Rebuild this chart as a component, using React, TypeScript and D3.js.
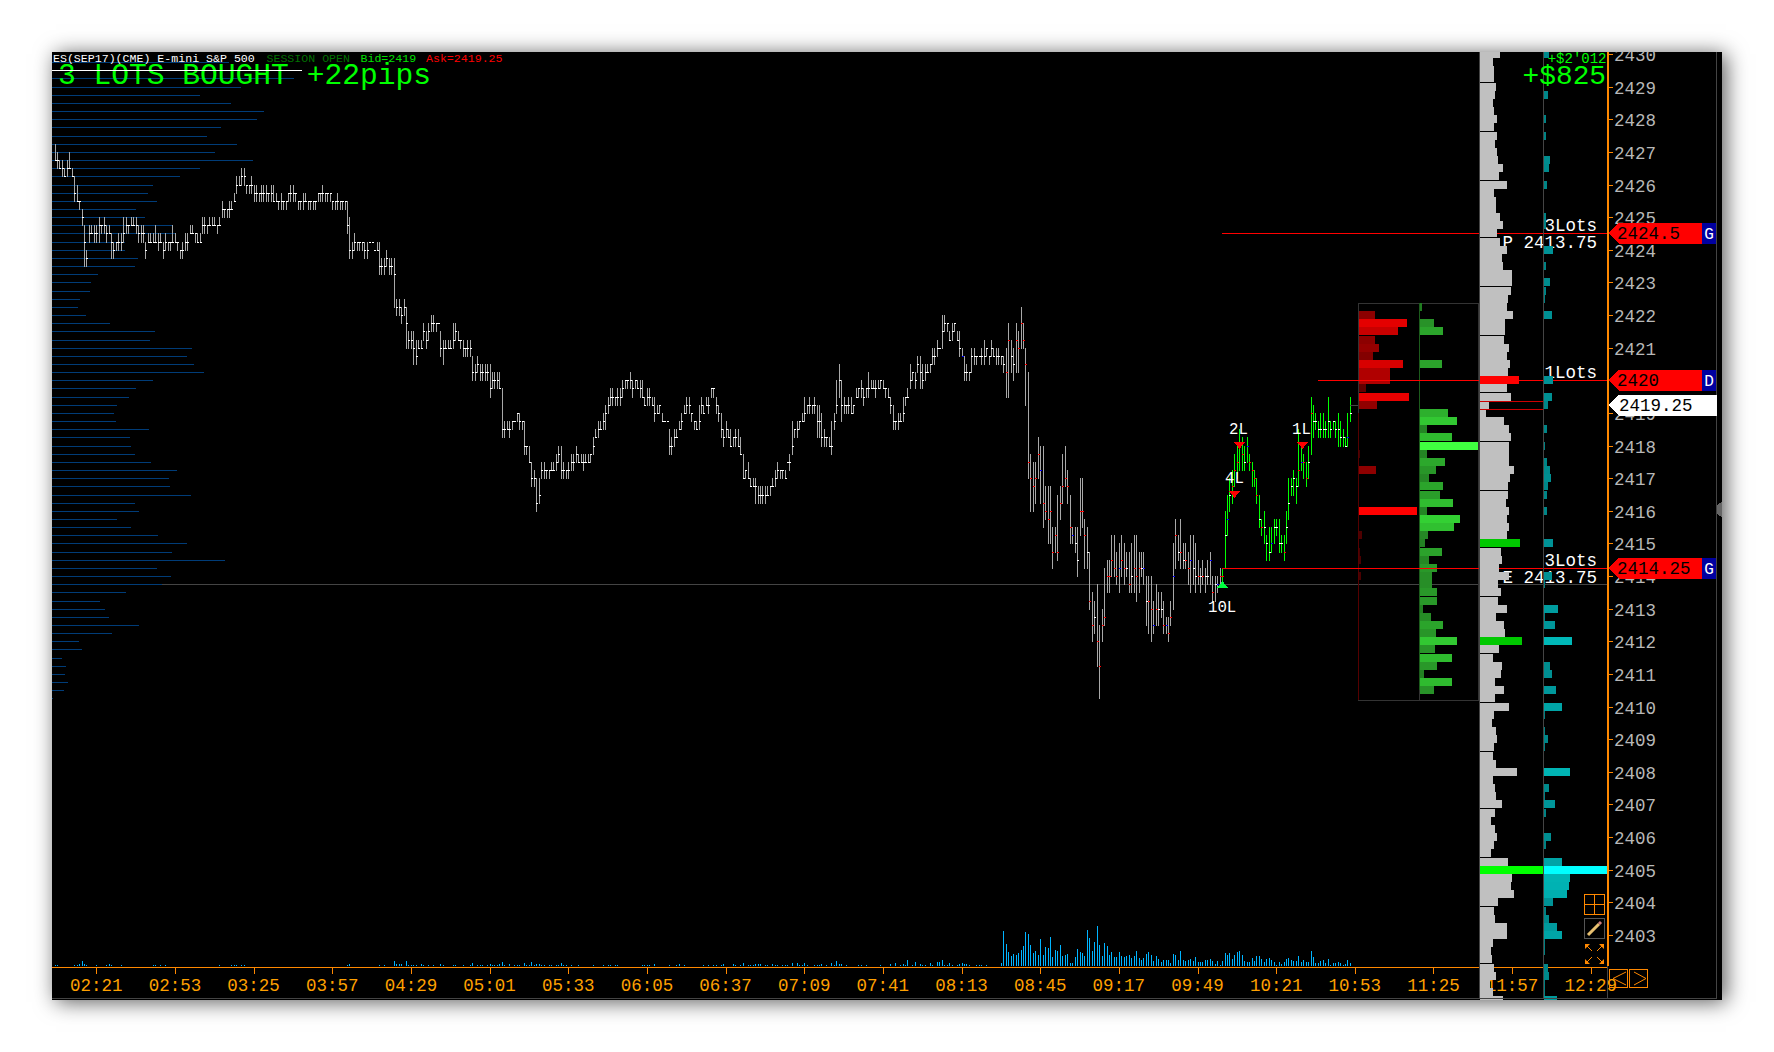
import React from "react";
import * as d3 from "d3";

// Quarter-point ticks above 2403 (2403.00 = 0, one point = 4)
const highs = [
97,96,95,95,94,95,96,94,93,92,90,89,87,84,87,87,87,87,88,87,
88,87,87,86,85,85,86,86,88,88,87,88,88,88,87,87,87,85,86,86,
86,87,86,86,85,86,85,85,87,86,85,84,85,86,86,87,87,86,86,86,
88,88,87,88,88,88,87,88,90,89,89,90,90,91,93,93,94,94,92,92,
93,92,92,91,92,92,92,91,92,92,91,90,91,90,90,91,92,92,91,90,
90,91,91,90,90,90,90,91,91,92,91,91,91,90,90,91,90,90,90,90,
88,85,86,85,85,85,85,85,85,85,84,85,85,83,83,84,83,83,83,78,
78,77,78,77,74,74,74,73,73,73,75,74,75,76,76,75,75,74,73,73,
73,73,75,75,74,73,73,72,73,73,71,70,71,70,70,70,70,70,69,69,
69,69,67,63,63,63,63,63,64,64,63,63,60,60,58,57,56,56,58,58,
57,57,58,58,59,60,60,58,57,58,59,59,60,59,59,59,59,59,59,61,
62,63,63,64,65,66,67,67,66,67,67,68,68,68,69,68,68,68,68,68,
66,67,67,66,66,65,65,64,63,63,62,61,62,62,63,64,65,66,66,64,
63,63,65,66,65,66,66,67,67,66,65,64,62,63,62,62,61,62,62,61,
59,57,58,56,56,56,55,55,55,55,55,55,56,57,58,57,57,57,58,59,
63,62,63,63,64,66,65,66,65,66,65,65,64,62,61,61,63,64,68,70,
68,66,65,66,66,65,67,67,68,67,67,69,68,68,68,68,68,68,67,67,
66,65,63,64,64,66,66,67,70,69,69,71,71,70,70,70,70,72,72,73,
72,76,76,75,74,75,75,74,74,72,71,70,69,72,72,71,71,72,73,72,
71,73,72,72,72,71,71,72,75,73,72,75,74,77,75,72,69,59,58,58,
61,60,60,55,55,55,50,50,54,55,59,60,57,54,50,50,50,56,56,51,
50,47,42,41,43,38,40,45,46,46,49,49,47,48,49,48,47,47,48,49,
49,47,47,47,44,44,44,41,43,42,42,41,39,39,41,48,51,49,51,48,
48,47,49,49,48,46,45,46,45,46,47,44,44,44,45,45,52,54,56,57,
59,60,62,61,60,61,59,58,57,56,54,51,52,49,50,50,51,51,51,49,
49,52,56,56,57,56,62,60,59,58,60,66,65,64,63,64,64,63,66,63,
63,63,64,63,62,61,64,66];
const lows = [
95,94,94,93,93,93,94,93,90,90,89,87,82,82,85,86,85,85,85,86,
86,85,86,83,83,84,84,84,85,86,86,87,87,86,85,85,85,83,85,85,
85,85,84,85,83,84,84,84,85,85,84,83,83,84,84,86,86,85,85,85,
86,86,86,87,87,87,86,87,88,88,88,88,89,90,91,92,92,92,91,91,
91,90,90,90,90,90,90,90,90,90,90,89,89,89,89,90,90,90,90,89,
89,89,90,89,89,89,89,90,90,90,90,90,90,89,89,89,89,89,89,86,
83,83,84,84,84,84,83,83,85,85,84,84,81,81,81,82,81,81,77,76,
76,75,76,72,72,72,70,70,72,72,73,72,73,74,74,74,75,71,70,72,
72,72,72,73,73,72,71,71,71,71,68,68,69,68,68,68,68,66,67,67,
67,67,61,61,62,61,62,63,63,62,62,59,59,58,55,55,52,53,56,56,
56,56,57,57,57,58,56,56,56,56,57,57,58,58,58,57,58,58,58,59,
61,61,62,62,62,64,65,65,65,65,65,66,67,67,67,66,67,67,66,66,
65,65,65,65,63,64,64,63,63,63,59,59,60,61,62,62,64,64,64,63,
62,62,62,64,64,65,64,66,66,64,63,61,60,61,61,60,60,60,60,59,
56,56,56,55,55,53,53,53,53,53,54,54,55,55,56,56,56,56,58,57,
59,61,61,62,63,63,64,64,64,64,61,61,60,60,60,60,59,62,64,66,
63,64,64,64,64,64,66,66,66,65,66,66,67,67,66,67,67,67,66,66,
64,62,62,62,63,63,65,66,67,68,67,69,67,67,68,69,69,70,70,71,
72,72,74,74,73,73,74,73,71,71,68,68,68,69,70,70,71,70,70,71,
70,71,71,70,70,70,69,66,66,69,68,69,69,72,72,65,56,52,52,53,
56,53,50,51,48,48,45,47,46,51,53,55,53,48,48,47,44,49,50,45,
45,40,36,37,33,29,36,38,42,42,44,44,43,42,44,43,44,42,42,42,
41,42,44,43,38,37,36,37,38,38,39,37,37,36,38,40,45,46,45,45,
45,43,42,43,42,43,42,43,42,43,43,41,41,42,43,43,45,49,52,53,
55,56,57,57,57,58,57,55,55,53,50,49,48,46,46,47,48,49,47,47,
46,48,51,54,54,53,55,57,56,55,56,59,61,62,61,61,61,61,61,61,
62,61,60,60,60,60,60,63];
const closes = [
95,95,94,94,93,94,94,93,91,90,90,88,85,83,86,86,86,86,87,87,
87,86,86,85,84,85,85,85,86,87,87,87,87,87,86,86,86,84,85,85,
85,85,85,85,84,85,85,85,85,85,85,84,84,85,85,86,86,86,85,85,
87,87,87,87,87,87,87,87,89,89,89,89,89,90,92,92,93,93,92,92,
92,91,91,91,91,91,91,91,91,90,90,90,90,90,90,91,91,91,91,90,
90,90,90,90,90,90,90,91,91,91,91,91,91,90,90,90,90,90,90,87,
84,84,85,85,85,85,84,84,85,85,84,84,82,82,82,83,82,82,81,77,
77,76,77,75,73,73,72,71,72,72,74,73,74,75,75,75,75,72,72,72,
72,72,73,74,73,73,72,72,72,72,69,69,70,69,69,69,69,67,68,68,
68,67,62,62,62,62,63,63,64,63,63,60,60,58,56,56,53,54,57,57,
57,57,57,57,58,59,57,57,57,57,58,58,59,58,58,58,58,58,59,60,
61,62,62,63,64,65,66,66,66,66,66,67,68,68,68,67,68,67,67,66,
65,66,66,65,64,64,65,63,63,63,60,60,61,61,62,63,64,65,65,64,
63,62,63,65,64,65,65,67,67,65,64,62,61,62,61,60,61,61,60,59,
56,57,56,55,55,55,54,54,54,54,54,55,55,56,57,57,57,56,58,58,
60,62,62,63,63,64,65,65,65,65,63,63,61,61,61,60,60,63,65,68,
65,65,65,65,64,65,66,67,67,66,67,67,67,67,67,67,68,67,67,66,
65,63,63,63,63,64,66,66,68,69,68,70,69,68,69,69,70,71,71,72,
72,74,75,75,73,74,75,73,72,71,69,69,69,71,71,71,71,71,71,72,
71,72,71,71,71,71,70,69,73,71,70,73,72,75,73,70,58,56,55,56,
59,57,53,52,51,52,47,49,47,53,55,56,55,50,49,48,46,52,52,49,
47,41,38,39,36,33,38,39,44,44,46,45,44,45,46,45,45,43,44,45,
44,45,45,45,41,41,40,38,40,40,40,38,38,37,39,44,49,47,47,46,
46,45,46,45,44,44,44,44,44,44,46,42,43,43,44,44,49,51,54,55,
57,58,60,59,58,60,58,57,56,54,51,50,50,48,47,48,50,50,48,48,
47,50,53,55,56,55,57,58,58,56,58,64,63,63,62,62,62,62,63,62,
63,62,62,61,61,60,61,64];
const redCloses = [387,388,391,392,393,394,395,396,397,398,399,400,402,403,404,405,406,407,408,409,410,411,412,413,417,418,419,421,422,424,425,426,427,428,429,430,431,432,434,435,437,439,440,441,445,446,448,451,453,454,456,458,460,461,465,467,471,474,475,479,480,481,482,483,486,487,488,489,491,500,506,508,509,511];
const blueCloses = [369,401,414,433,443,447,452,455,462,470,473,477,485,495,507,526];

const lateVolumes = [35,22,14,10,12,11,13,16,20,34,32,21,13,15,11,27,11,19,18,29,9,16,15,21,10,11,12,3,3,9,17,14,13,10,36,28,15,24,40,21,10,23,20,11,14,9,9,14,10,9,10,11,8,10,15,8,6,8,12,14,11,5,10,7,4,6,6,6,3,12,11,6,15,6,5,6,7,5,9,4,4,4,6,6,7,5,2,5,1,5,13,11,13,7,11,14,15,11,5,4,4,8,5,10,10,7,4,7,8,6,4,1,4,2,4,7,8,6,5,5,10,4,6,4,4,15,9,3,3,5,6,3,7,1,3,3,4,3,1,2,6,3];
const quietVolumeBars = [0,1,8,9,10,11,12,13,17,21,22,23,27,40,41,43,45,67,72,73,74,76,77,119,120,132,134,138,139,140,141,143,144,145,146,147,149,150,152,154,157,158,162,163,166,169,170,172,173,174,176,177,178,179,180,181,182,183,185,187,188,189,191,192,193,194,195,196,197,198,199,201,202,204,205,206,207,208,210,213,219,223,225,226,228,229,239,240,241,242,244,250,253,254,256,264,266,268,269,271,272,276,277,279,280,282,283,284,285,286,287,289,290,292,293,294,296,297,298,300,302,303,304,305,306,309,310,311,312,314,316,317,318,319,320,322,327,328,330,336,340,342,344,345,346,347,349,350,352,353,354,356,357,359,360,361,362,363,364,365,367,368,369,370,371,372,375,376,377,379,385];
const quietVolumes = [1,1,1,1,2,5,2,1,1,1,2,1,1,1,1,1,1,1,1,1,1,1,1,1,2,1,1,5,2,2,2,5,1,1,1,1,2,1,1,1,2,1,1,1,1,1,3,1,1,1,1,2,1,1,1,2,4,1,2,1,1,1,3,1,1,4,1,2,2,1,1,1,1,1,1,3,1,1,1,1,1,1,1,1,1,1,1,1,1,1,2,1,1,2,1,1,1,1,1,1,2,2,1,1,3,1,1,1,2,2,2,1,1,2,1,1,1,1,1,3,3,1,1,3,1,1,1,1,2,1,3,1,5,2,2,1,1,1,1,1,2,3,1,2,1,6,1,4,2,1,1,3,1,4,4,6,1,1,3,1,1,2,3,2,2,1,1,1,1,1,3];

// Left session profile, from tick 107 downward
const blueProfile = [177,250,242,189,148,179,212,205,169,155,185,163,201,148,128,101,96,105,84,93,121,123,73,73,86,83,46,39,38,28,26,34,58,103,98,140,135,142,152,101,84,77,65,62,64,97,78,79,83,99,125,117,118,139,83,87,65,79,106,135,120,173,105,119,110,74,48,53,57,87,60,27,30,10,14,13,16,12,1];
// Grey profile, from tick 108 downward
const greyProfile = [20,13,14,14,16,15,13,14,17,14,17,15,17,18,23,19,27,14,16,16,20,23,17,20,27,22,23,32,32,31,28,27,33,25,25,24,29,27,30,28,39,27,31,9,6,24,29,31,29,29,29,34,30,28,28,26,29,27,29,27,40,21,22,19,29,18,21,18,27,16,24,25,42,19,13,22,21,15,24,15,29,14,12,16,17,14,13,16,37,13,15,16,22,15,11,15,17,14,11,28,63,32,31,34,18,14,15,27,27,13,11,12,14,16,10,13,23];
const greyHighlights = [[68,"#ff0000"],[48,"#00c800"],[36,"#00c800"],[8,"#00ff00"]] as [number,string][];
const tealTicks = [108,103,100,98,95,94,92,88,87,84,82,80,79,78,76,68,66,65,62,60,58,57,56,55,54,52,48,44,43,40,39,38,36,33,32,30,28,27,25,24,23,20,18,17,16,15,12,11,9,8,7,6,5,4,3,2,1,0,-1,-2,-4,-5,-6,-7,-8];
const tealValues = [5,4,2,2,6,5,3,2,2,9,2,6,2,1,8,9,8,4,3,1,3,6,7,4,3,3,9,8,1,14,1,11,28,6,8,12,18,1,1,4,1,26,5,1,11,2,7,2,18,64,26,25,23,9,2,5,13,18,1,1,4,5,1,1,13];
const soldTicks = [76,75,74,73,72,71,70,69,68,67,66,65,59,57,52,49,47,46,44];
const soldValues = [16,48,39,16,20,14,44,31,31,7,50,18,1,17,58,3,1,2,2];
const boughtTicks = [77,75,74,70,64,63,62,61,60,59,58,57,56,55,54,53,52,51,50,49,48,47,46,45,44,43,42,41,40,39,38,37,36,35,34,33,32,31,30];
const boughtValues = [2,14,23,22,28,37,7,32,58,7,25,16,9,23,20,33,7,40,34,8,5,22,9,17,12,12,17,17,3,11,23,16,37,15,32,17,4,32,14];

const priceLabels = [2430,2429,2428,2427,2426,2425,2424,2423,2422,2421,2420,2419,2418,2417,2416,2415,2414,2413,2412,2411,2410,2409,2408,2407,2406,2405,2404,2403];
const timeLabels = ["02:21","02:53","03:25","03:57","04:29","05:01","05:33","06:05","06:37","07:09","07:41","08:13","08:45","09:17","09:49","10:21","10:53","11:25","11:57","12:29"];
const priceFlags = [{ p: 2424.5, t: "2424.5", k: "G" }, { p: 2420, t: "2420", k: "D" }, { p: 2414.25, t: "2414.25", k: "G" }];
const orderLines = [{ p: 2424.5, barIndex: 475 }, { p: 2420, barIndex: 514 }, { p: 2414.25, barIndex: 475 }];
const lotLabels = [{ p: 2424.5, t: "3Lots", sub: "P 2413.75" }, { p: 2420, t: "1Lots", sub: "" }, { p: 2414.25, t: "3Lots", sub: "E 2413.75" }];

const MONO = "'Liberation Mono', monospace";
const ORANGE = "#ff8800";

const tickPrice = (q: number) => 2403 + q / 4;
const py = d3.scaleLinear().domain([2403, 2430]).range([935, 54]);
const yq = (q: number) => Math.round(py(tickPrice(q)));
const bx = d3.scaleLinear().domain([0, 527]).range([54.5, 1349.9]);
const xi = (i: number) => Math.round(bx(i)) + 0.5;
const vol = d3.scaleLinear().domain([0, 40]).range([966, 926]);
const unit = d3.scaleLinear().domain([0, 100]).range([0, 100]);
const tealColor = d3.scaleLinear<string>().domain([0, 10, 28, 64]).range(["#007f80", "#009498", "#00b8b8", "#00ffff"]);
const redColor = d3.scaleLinear<string>().domain([0, 16, 31, 48, 58]).range(["#400000", "#8c0000", "#b00000", "#e40000", "#ff0000"]);
const greenColor = d3.scaleLinear<string>().domain([0, 10, 25, 40, 58]).range(["#1f7a1f", "#268a26", "#2ca82c", "#33d033", "#40ff40"]);

export default function App() {
  return (
    <div style={{ position: "fixed", inset: 0, background: "#fff", overflow: "hidden" }}>
      <div style={{ position: "absolute", left: 52, top: 52, width: 1670, height: 948, background: "#000", boxShadow: "4px 2px 20px rgba(0,0,0,0.65)" }} />
      <svg width={1774} height={1052} style={{ position: "absolute", left: 0, top: 0 }}>
        <defs>
          <clipPath id="pane"><rect x={52} y={52} width={1670} height={948} /></clipPath>
        </defs>
        <g clipPath="url(#pane)" shapeRendering="crispEdges">
          {/* left session profile */}
          {blueProfile.map((v, k) => {
            const y = yq(107 - k) + 0.5;
            return <line key={k} x1={52} x2={52 + unit(v)} y1={y} y2={y} stroke="#003c78" />;
          })}
          <line x1={52 + 110} x2={1607} y1={yq(43) + 0.5} y2={yq(43) + 0.5} stroke="#444" />

          {/* time axis text sits below the profile column */}
          {timeLabels.map((t, k) => {
            const x = bx(17 + 32 * k);
            return (
              <g key={t}>
                <text x={x} y={990.5} textAnchor="middle" fontFamily={MONO} fontSize={17.5} fill="#ffa000" shapeRendering="auto">{t}</text>
                <line x1={Math.round(x) + 0.5} x2={Math.round(x) + 0.5} y1={967} y2={974} stroke={ORANGE} />
              </g>
            );
          })}
          <line x1={52} x2={1607} y1={967.5} y2={967.5} stroke={ORANGE} strokeWidth={1.4} />

          {/* volume */}
          {quietVolumeBars.map((b, k) => (
            <line key={k} x1={xi(b)} x2={xi(b)} y1={966} y2={vol(quietVolumes[k])} stroke="#00b4ff" />
          ))}
          {lateVolumes.map((v, k) => {
            const b = 528 - lateVolumes.length + k;
            return <line key={k} x1={xi(b)} x2={xi(b)} y1={966} y2={vol(v)} stroke="#00b4ff" />;
          })}

          {/* price bars */}
          {highs.map((h, i) => {
            const x = xi(i);
            const color = i >= 475 ? "#00ff00" : "#a8a8a8";
            const c = redCloses.includes(i) ? "#ff0000" : blueCloses.includes(i) ? "#0000ff" : "#ffffff";
            return (
              <g key={i}>
                <line x1={x} x2={x} y1={yq(h)} y2={yq(lows[i]) + 1} stroke={color} />
                <line x1={x - 0.5} x2={x + 1.5} y1={yq(closes[i]) + 0.5} y2={yq(closes[i]) + 0.5} stroke={c} />
              </g>
            );
          })}
          <line x1={1350} x2={1358} y1={405.5} y2={405.5} stroke="#444" />

          {/* lots box */}
          <rect x={1358.5} y={303.5} width={119.5} height={397} fill="none" stroke="#333" />
          <line x1={1419.5} x2={1419.5} y1={303} y2={701} stroke="#333" />
          <line x1={1358.5} x2={1358.5} y1={yq(64)} y2={700} stroke="#550000" />
          <line x1={1419.5} x2={1419.5} y1={303} y2={yq(30)} stroke="#1c5c1c" />
          {soldTicks.map((q, k) => (
            <rect key={k} x={1359} y={yq(q) - 4} width={unit(soldValues[k])} height={8} fill={redColor(soldValues[k])} />
          ))}
          {boughtTicks.map((q, k) => (
            <rect key={k} x={1420} y={yq(q) - 4} width={unit(boughtValues[k])} height={8} fill={greenColor(boughtValues[k])} />
          ))}

          {/* order lines */}
          {orderLines.map((l) => (
            <line key={l.p} x1={bx(l.barIndex)} x2={1607} y1={Math.round(py(l.p)) + 0.5} y2={Math.round(py(l.p)) + 0.5} stroke="#ff0000" />
          ))}

          {/* lot labels */}
          <g shapeRendering="auto" fontFamily={MONO} fontSize={17.5} fill="#fff">
            {lotLabels.map((l) => (
              <g key={l.p}>
                <text x={1597} y={py(l.p) - 2} textAnchor="end">{l.t}</text>
                {l.sub && <text x={1597} y={py(l.p) + 15} textAnchor="end">{l.sub}</text>}
              </g>
            ))}
          </g>

          {/* grey profile */}
          {greyProfile.map((v, k) => {
            const q = 108 - k;
            const hl = greyHighlights.find((g) => g[0] === q);
            return <rect key={k} x={1480} y={yq(q) - 4} width={unit(v)} height={8} fill={hl ? hl[1] : "#c0c0c0"} />;
          })}
          <rect x={1479.5} y={401.5} width={64} height={8} fill="none" stroke="#cc0000" />

          {/* teal profile */}
          {tealTicks.map((q, k) => (
            <rect key={k} x={1544} y={yq(q) - 4} width={unit(tealValues[k])} height={8} fill={tealColor(tealValues[k])} />
          ))}

          {/* frames */}
          <line x1={1479.5} x2={1479.5} y1={52} y2={998} stroke="#444" />
          <line x1={1543.5} x2={1543.5} y1={52} y2={998} stroke="#444" />
          <line x1={1607.5} x2={1607.5} y1={52} y2={966} stroke={ORANGE} strokeWidth={2} />
          <line x1={1607.5} x2={1607.5} y1={966} y2={998} stroke="#444" />
          <line x1={1716.5} x2={1716.5} y1={52} y2={998} stroke="#444" />
          <line x1={52} x2={1717} y1={998.5} y2={998.5} stroke="#444" />
          <polygon points="1717,505 1722,502 1722,517 1717,514" fill="#666" />

          {/* price axis */}
          {priceLabels.map((p) => (
            <g key={p}>
              <line x1={1608} x2={1613} y1={Math.round(py(p)) + 0.5} y2={Math.round(py(p)) + 0.5} stroke={ORANGE} />
              <text x={1614} y={py(p) + 7} fontFamily={MONO} fontSize={17.5} fill="#b8b8b8" shapeRendering="auto">{p}</text>
            </g>
          ))}

          {/* price flags */}
          {priceFlags.map((f) => {
            const y = Math.round(py(f.p));
            const path = d3.line()([[1609, y], [1619, y - 10.5], [1702, y - 10.5], [1702, y + 10.5], [1619, y + 10.5]]) + "Z";
            return (
              <g key={f.p}>
                <path d={path} fill="#ff0000" />
                <rect x={1702} y={y - 10.5} width={14} height={21} fill="#0000a0" />
                <text x={1709} y={y + 6} textAnchor="middle" fontFamily={MONO} fontSize={16} fill="#fff" shapeRendering="auto">{f.k}</text>
                <text x={1617} y={y + 6} fontFamily={MONO} fontSize={17.5} fill="#000" shapeRendering="auto">{f.t}</text>
              </g>
            );
          })}
          <path d={d3.line()([[1609, 405], [1619, 394.5], [1717, 394.5], [1717, 415.5], [1619, 415.5]]) + "Z"} fill="#fff" />
          <text x={1619} y={411} fontFamily={MONO} fontSize={17.5} fill="#000" shapeRendering="auto">2419.25</text>

          {/* trade markers */}
          <polygon points="1234,442 1245,442 1239.5,449" fill="#ff0000" />
          <polygon points="1297,442 1308,442 1302.5,449" fill="#ff0000" />
          <polygon points="1229,491 1240,491 1234.5,498" fill="#ff0000" />
          <polygon points="1222.5,581 1228,588 1217,588" fill="#00ff40" />
          <g shapeRendering="auto" fontFamily={MONO} fontSize={15.7} fill="#fff">
            <text x={1229} y={434}>2L</text>
            <text x={1292} y={434}>1L</text>
            <text x={1225} y={483}>4L</text>
            <text x={1208} y={612}>10L</text>
          </g>

          {/* toolbar */}
          <rect x={1584.5} y={894.5} width={20} height={20} fill="none" stroke={ORANGE} />
          <line x1={1594.5} x2={1594.5} y1={894} y2={915} stroke={ORANGE} />
          <line x1={1584} x2={1605} y1={904.5} y2={904.5} stroke={ORANGE} />
          <rect x={1584.5} y={918.5} width={20} height={20} fill="none" stroke="#555" />
          <g shapeRendering="auto">
            <line x1={1588} x2={1599} y1={935} y2={924} stroke="#e8c070" strokeWidth={3} />
            <line x1={1599} x2={1601} y1={924} y2={922} stroke="#d08080" strokeWidth={3} />
            <path d="M1585 944 l5 0 l-5 5 Z M1604 944 l-5 0 l5 5 Z M1585 964 l5 0 l-5 -5 Z M1604 964 l-5 0 l5 -5 Z" fill={ORANGE} />
            <path d="M1587 946 L1592 951 M1602 946 L1597 951 M1587 962 L1592 957 M1602 962 L1597 957" stroke={ORANGE} />
            <path d="M1626 972 L1613 978.5 L1626 985 M1634 972 L1646 978.5 L1634 985" fill="none" stroke={ORANGE} />
          </g>
          <rect x={1609.5} y={969.5} width={18} height={18} fill="none" stroke={ORANGE} />
          <rect x={1629.5} y={969.5} width={18} height={18} fill="none" stroke={ORANGE} />

          {/* header text */}
          <g shapeRendering="auto" fontFamily={MONO}>
            <g fontSize={11.6}>
              <text x={53} y={62} fill="#fff">ES(SEP17)(CME) E-mini S&amp;P 500</text>
              <text x={266.5} y={62} fill="#007000">SESSION OPEN</text>
              <text x={360.5} y={62} fill="#00e000">Bid=2419</text>
              <text x={426} y={62} fill="#ff0000">Ask=2419.25</text>
            </g>
            <text x={58} y={84} fontSize={29.6} fill="#00ff00">3 LOTS BOUGHT +22pips</text>
            <text x={1606} y={84} textAnchor="end" fontSize={27.8} fill="#00ff00">+$825</text>
            <text x={1606.5} y={62.5} textAnchor="end" fontSize={14} fill="#00ff00">+$2'012</text>
          </g>
          <line x1={52} x2={302} y1={70.5} y2={70.5} stroke="#fff" />
        </g>
      </svg>
    </div>
  );
}
